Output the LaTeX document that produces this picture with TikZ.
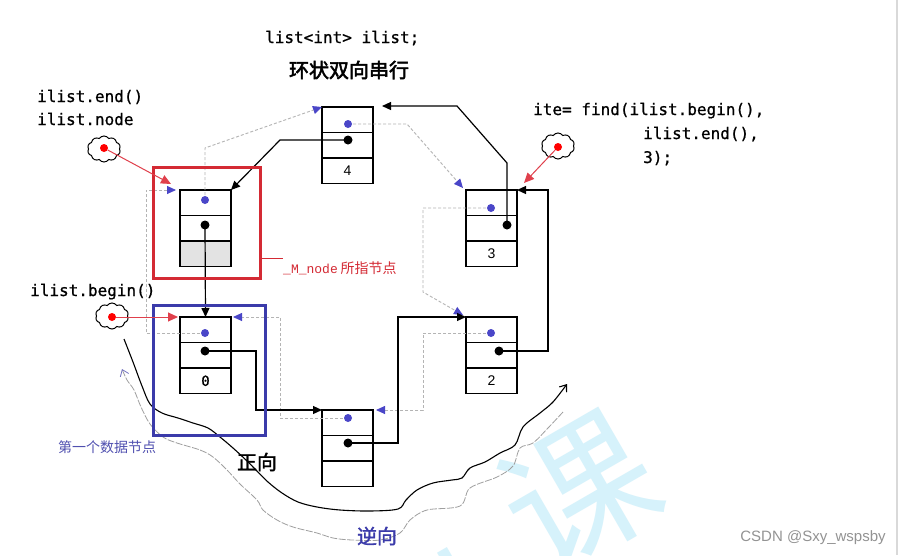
\documentclass[tikz,border=0pt]{standalone}
\usepackage{fontspec}
\setmainfont{Liberation Sans}
\newfontfamily\codefont[FakeBold=0.8]{DejaVu Sans Mono}
\newfontfamily\courfont{Liberation Mono}
\newfontfamily\cjk{Noto Sans CJK SC}
\newfontfamily\cjkb[FakeBold=2.5]{Noto Sans CJK SC}
\newfontfamily\cjkm[FakeBold=1.5]{Noto Sans CJK SC}
\usetikzlibrary{arrows.meta,shapes.symbols,calc}
\definecolor{myred}{HTML}{D42A34}
\definecolor{lred}{HTML}{E0404C}
\definecolor{myblue}{HTML}{3B3BAA}
\definecolor{dotblue}{HTML}{4A46C8}
\definecolor{txtblue}{HTML}{5050B0}
\definecolor{wm}{HTML}{D6F2FB}
\definecolor{dgray}{HTML}{B4B4B4}
\begin{document}
\begin{tikzpicture}[x=1pt,y=-1pt,
  cell/.style={draw, line width=1.2pt, minimum width=51pt, minimum height=25.5pt, inner sep=0pt, outer sep=0pt},
  graycell/.style={cell, fill=gray!22},
  bdot/.style={circle, fill=dotblue, inner sep=0pt, minimum size=8pt},
  kdot/.style={circle, fill=black, inner sep=0pt, minimum size=9pt},
  rdot/.style={circle, fill=red, inner sep=0pt, minimum size=8pt},
  nextarrow/.style={line width=1.2pt, -{Triangle[length=9pt,width=8pt]}},
  prevarrow/.style={dgray, line width=0.9pt, dash pattern=on 3pt off 2pt, -{Triangle[length=9pt,width=8pt,color=dotblue]}},
  redarrow/.style={lred, line width=1pt, -{Triangle[length=10pt,width=9pt]}},
  cloudst/.style={cloud, draw, cloud puffs=10, cloud puff arc=110, aspect=1.3, minimum width=33pt, minimum height=26pt, inner sep=0pt, line width=1pt},
  code/.style={font=\codefont\fontsize{16}{19}\selectfont, inner sep=0pt},
  numtxt/.style={font=\fontsize{14}{16}\selectfont},
  cjk20/.style={font=\cjkm\fontsize{20}{22}\selectfont, inner sep=0pt},
  cjk14/.style={font=\cjk\fontsize{14}{16}\selectfont, inner sep=0pt}
]
\useasboundingbox (0,0) rectangle (900,555);
\fill[white] (0,0) rectangle (900,555);
% watermark
\begin{scope}
\clip (0,0) rectangle (900,555);
\node[font=\cjk\fontsize{150}{150}\selectfont, text=wm, rotate=30] (wm1) at (580,492) {课};
\node[font=\cjk\fontsize{150}{150}\selectfont, text=wm, rotate=30] (wm2) at (458,615) {业};
\end{scope}
\draw[gray!30, line width=2pt] (897,0) -- (897,555);

% wavy curves
\draw[line width=1.1pt, -{Straight Barb[length=6pt,width=9pt]}] plot[smooth, tension=0.55] coordinates {
 (124,339) (133,362) (142,386) (150,404) (162,413) (178,418) (193,423) (208,428) (220,437) (233,448) (246,460) (256,470) (268,482) (282,493) (298,502) (317,507) (340,510) (370,511) (398,509) (406,500) (417,490) (433,483) (452,480) (462,478) (470,468) (485,462) (500,453) (515,445) (523,427) (540,413) (553,402) (567,384)};
\draw[gray!75, line width=0.8pt, dash pattern=on 7pt off 1.5pt, -{Straight Barb[length=6pt,width=9pt,color=txtblue!80]}] plot[smooth, tension=0.55] coordinates {
 (563,412) (548,428) (533,443) (520,448) (513,466) (497,477) (470,488) (460,506) (427,510) (410,520) (400,533) (380,540) (352,540) (333,538) (317,533) (293,527) (277,520) (263,510) (257,500) (240,484) (227,470) (213,457) (200,450) (177,443) (163,437) (150,424) (141,407) (134,390) (127,380) (122,369)};

% boxes
\node[cell] (E1) at (205.5,202.75) {};
\node[cell, anchor=north] (E2) at (E1.south) {};
\node[graycell, anchor=north] (E3) at (E2.south) {};
\node[cell] (F1) at (347.5,119.75) {};
\node[cell, anchor=north] (F2) at (F1.south) {};
\node[cell, anchor=north, numtxt] (F3) at (F2.south) {4};
\node[cell] (T1) at (491.5,202.75) {};
\node[cell, anchor=north] (T2) at (T1.south) {};
\node[cell, anchor=north, numtxt, text width=43pt, align=center] (T3) at (T2.south) {3};
\node[cell] (W1) at (491.5,329.75) {};
\node[cell, anchor=north] (W2) at (W1.south) {};
\node[cell, anchor=north, numtxt, text width=43pt, align=center] (W3) at (W2.south) {2};
\node[cell] (O1) at (205.5,329.75) {};
\node[cell, anchor=north] (O2) at (O1.south) {};
\node[cell, anchor=north, font=\codefont\fontsize{14}{16}\selectfont] (O3) at (O2.south) {0};
\node[cell] (B1) at (347.5,422.75) {};
\node[cell, anchor=north] (B2) at (B1.south) {};
\node[cell, anchor=north] (B3) at (B2.south) {};

% prev (dashed) connectors
\draw[prevarrow] (205,200) -- (205,148) -- (F1.north west);
\draw[prevarrow] (348,124) -- (407,124) -- ([xshift=-3pt,yshift=2pt]T1.north west);
\draw[prevarrow] (491,208) -- (423,208) -- (423,292) -- ([xshift=-3pt,yshift=2pt]W1.north west);
\draw[prevarrow] (491,333) -- (423,333) |- ([xshift=3pt]B1.north east);
\draw[prevarrow] (348,418) -- (280,418) |- ([xshift=2pt]O1.north east);
\draw[prevarrow] (205,333) -- (146,333) |- ([xshift=-4pt]E1.north west);

% dots
\node[bdot] (Epb) at (205,200) {};
\node[kdot] (Enb) at (205,225) {};
\node[bdot] (Fpb) at (348,124) {};
\node[kdot] (Fnb) at (348,140) {};
\node[bdot] (Tpb) at (491,208) {};
\node[kdot] (Tnb) at (507,225) {};
\node[bdot] (Wpb) at (491,333) {};
\node[kdot] (Wnb) at (499,351) {};
\node[bdot] (Opb) at (205,333) {};
\node[kdot] (Onb) at (205,351) {};
\node[bdot] (Bpb) at (348,418) {};
\node[kdot] (Bnb) at (348,443) {};

% next (solid) connectors
\draw[nextarrow] (Enb.center) -- (O1.north);
\draw[nextarrow] (Onb.center) -- ++(51,0) |- (B1.north west);
\draw[nextarrow] (Bnb.center) -- ++(50,0) |- (W1.north west);
\draw[nextarrow] (Wnb.center) -- ++(49,0) |- (T1.north east);
\draw[nextarrow] (Tnb.center) -- ++(0,-62) -- ++(-50,-57) -- ([xshift=9pt,yshift=1pt]F1.north east);
\draw[nextarrow] (Fnb.center) -- ++(-68,0) -- (E1.north east);

% highlight boxes
\node[draw=myred, line width=3pt, minimum width=107pt, minimum height=111pt, inner sep=0pt] (redbox) at (206.5,222.5) {};
\node[draw=myblue, line width=3pt, minimum width=112pt, minimum height=130pt, inner sep=0pt] (bluebox) at (209,370) {};

% clouds and red pointers
\node[cloudst] (c1) at (104,149) {};
\node[rdot] (r1) at (104,148) {};
\coordinate (r1t) at (171,184);
\draw[redarrow] (r1) -- (r1t);
\node[cloudst] (c2) at (112,316) {};
\node[rdot] (r2) at (112,317) {};
\draw[redarrow] (r2) -- ([xshift=-2pt]O1.north west);
\node[cloudst] (c3) at (558,146) {};
\node[rdot] (r3) at (558,147) {};
\coordinate (r3t) at (524,183);
\draw[redarrow] (r3) -- (r3t);

% texts
\node[code, anchor=base west] (decl) at (265,43) {list<int> ilist;};
\node[font=\cjkb\fontsize{20}{22}\selectfont, inner sep=0pt] (title) at (349,70) {环状双向串行};
\node[code, anchor=base west] (endt) at (37,102) {ilist.end()};
\node[code, anchor=base west] (nodet) at (37,125) {ilist.node};
\node[code, anchor=base west] (find1) at (533,115) {ite= find(ilist.begin(),};
\node[code, anchor=base west] (find2) at (643,139) {ilist.end(),};
\node[code, anchor=base west] (find3) at (643,163) {3);};
\node[code, anchor=base west] (begt) at (30,296) {ilist.begin()};
\node[anchor=base west, inner sep=0pt, text=myred] (mlab) at (283,273) {{\courfont\fontsize{13}{15}\selectfont \_M\_node} {\cjk\fontsize{14}{16}\selectfont 所指节点}};
\draw[myred, line width=1pt] (redbox.east |- 0,258) -- (mlab.west |- 0,258);
\node[cjk14, anchor=west, text=txtblue] (first) at (58,447) {第一个数据节点};
\node[cjk20] (fwd) at (257,462) {正向};
\node[cjk20, text=myblue] (bwd) at (377,536) {逆向};
\node[font=\fontsize{15}{17}\selectfont, text=gray!85, inner sep=0pt] (csdn) at (813,538) {CSDN @Sxy\_wspsby};
\end{tikzpicture}
\end{document}
